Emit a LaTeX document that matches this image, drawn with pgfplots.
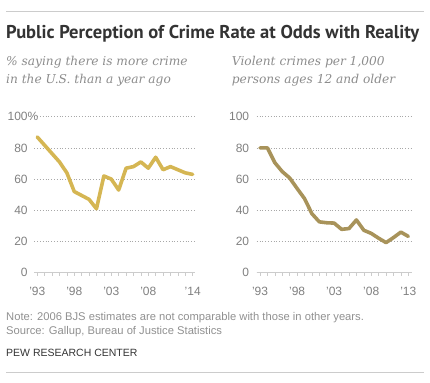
\documentclass[border=0pt]{standalone}
\usepackage{pgfplots}
\pgfplotsset{compat=1.18}
\usepackage{fontspec}
\setmainfont{Liberation Sans}
\newfontfamily\titlefont{PT Sans}
\newfontfamily\subfont{DejaVu Serif}
\definecolor{goldline}{HTML}{D5B653}
\definecolor{oliveline}{HTML}{A8935A}
\definecolor{titlegray}{HTML}{333333}
\definecolor{subgray}{HTML}{8C8C8C}
\definecolor{tickgray}{HTML}{808080}
\definecolor{notegray}{HTML}{909090}
\definecolor{rulegray}{HTML}{CCCCCC}
\definecolor{gridgray}{HTML}{A8A8A8}
\pgfplotsset{
  pewaxis/.style={
    scale only axis, anchor=south west, clip=false,
    axis lines*=left,
    y axis line style={draw=none},
    x axis line style={draw=rulegray, line width=0.8pt},
    ymin=0, ymax=100, ytick={0,20,40,60,80,100},
    ymajorgrids, grid style={gridgray, line width=0.7pt, dash pattern=on 0.8pt off 2pt},
    major y tick style={draw=none},
    tick align=outside,
    major tick length=3pt, minor tick length=3pt,
    every tick/.style={rulegray, line width=0.6pt},
    tick label style={font=\fontsize{12}{14}\selectfont, text=tickgray},
    yticklabel style={anchor=east, inner sep=0pt, xshift=-3.5pt},
    xticklabel style={anchor=north, inner sep=0pt, yshift=-11pt},
  }
}
\begin{document}
\begin{tikzpicture}
\path[use as bounding box] (0pt,0pt) rectangle (430pt,382pt);
\draw[rulegray, line width=0.8pt] (6pt,370.3pt) -- (424pt,370.3pt);
\draw[rulegray, line width=0.8pt] (6pt,9.3pt) -- (424pt,9.3pt);
\node[anchor=base west, inner sep=0pt, text=titlegray] at (6pt,343.7pt) {\resizebox{413pt}{!}{\titlefont\bfseries Public Perception of Crime Rate at Odds with Reality}};
\begin{scope}[every node/.style={anchor=base west, inner sep=0pt, text=subgray, font=\subfont\itshape\fontsize{12.2}{14}\selectfont}]
\node at (6pt,316.3pt) {\% saying there is more crime};
\node at (6pt,298.7pt) {in the U.S. than a year ago};
\node at (231.7pt,316.3pt) {Violent crimes per 1,000};
\node at (231.7pt,298.7pt) {persons ages 12 and older};
\end{scope}
\begin{scope}[every node/.style={anchor=base west, inner sep=0pt, text=notegray, font=\fontsize{11.2}{13}\selectfont}]
\node at (6pt,61.3pt) {Note: 2006 BJS estimates are not comparable with those in other years.};
\node at (6pt,47.7pt) {Source: Gallup, Bureau of Justice Statistics};
\end{scope}
\node[anchor=base west, inner sep=0pt, text=titlegray, font=\fontsize{10.5}{12}\selectfont] at (6pt,25.3pt) {PEW RESEARCH CENTER};

\begin{axis}[pewaxis, at={(34.3pt,109.3pt)}, width=160.6pt, height=156pt,
  xmin=1992.6, xmax=2014.3,
  xtick={1993,1998,2003,2008,2014},
  xticklabels={{'93},{'98},{'03},{'08},{'14}},
  minor xtick={1993,...,2014},
  yticklabels={0,20,40,60,80,{100\rlap{\%}}}]
\addplot[goldline, line width=3.6pt, line join=round, line cap=round] coordinates {
(1993,87) (1996,71) (1997,64) (1998,52) (2000,47) (2001,41) (2002,62)
(2003,60) (2004,53) (2005,67) (2006,68) (2007,71) (2008,67) (2009,74)
(2010,66) (2011,68) (2012,66) (2013,64) (2014,63)};
\end{axis}

\begin{axis}[pewaxis, at={(256.7pt,109.3pt)}, width=155pt, height=156pt,
  xmin=1992.55, xmax=2013.46,
  xtick={1993,1998,2003,2008,2013},
  xticklabels={{'93},{'98},{'03},{'08},{'13}},
  minor xtick={1993,...,2013},
  yticklabels={0,20,40,60,80,100},
  yticklabel style={xshift=-0.9pt}]
\addplot[oliveline, line width=3.6pt, line join=round, line cap=round] coordinates {
(1993,80) (1994,80) (1995,70.5) (1996,64.8) (1997,60.7) (1998,54) (1999,47.5)
(2000,37.8) (2001,32.6) (2002,32) (2003,31.8) (2004,27.8) (2005,28.3)
(2006,33.8) (2007,27.2) (2008,25.2) (2009,22.1) (2010,19.3) (2011,22.5)
(2012,26) (2013,23.3)};
\end{axis}
\end{tikzpicture}
\end{document}
